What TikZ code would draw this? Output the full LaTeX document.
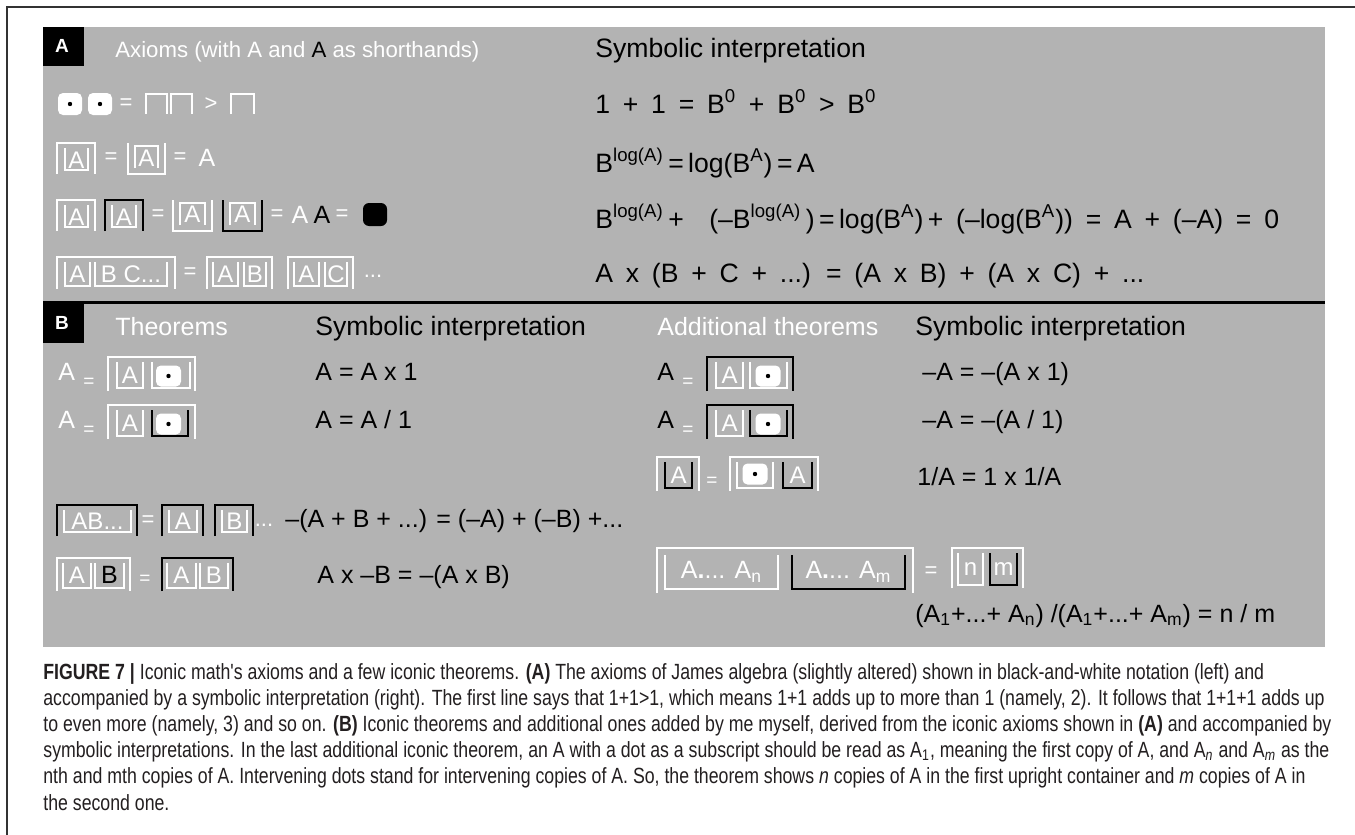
\documentclass[tikz,border=0pt]{standalone}
\usepackage{fontspec}
\setmainfont{Liberation Sans}
\newfontfamily\capfont{Liberation Sans}[FakeStretch=0.805]
\definecolor{panel}{RGB}{179,179,179}
\definecolor{captxt}{RGB}{35,31,32}
\newcommand\fsMain{\fontsize{12.5}{15}\selectfont}
\newcommand\fsSym{\fontsize{13.3}{16}\selectfont\spaceskip=0.48em\relax}
\newcommand\fsSymH{\fontsize{13.3}{16}\selectfont}
\newcommand\fsHead{\fontsize{11.1}{14}\selectfont}
\newcommand\fsBox{\fontsize{12}{14}\selectfont}
\newcommand\fsEq{\fontsize{11}{13}\selectfont}
\newcommand\fsEqs{\fontsize{9.5}{11}\selectfont}
\newcommand\fsLab{\fontsize{9.5}{11}\selectfont\bfseries}
% upright container (open at bottom): style, x0, x1, ytop, ybot
\newcommand\cU[5]{\draw[#1] (#2,#5) -- (#2,#4) -- (#3,#4) -- (#3,#5);}
% inverted container (open at top)
\newcommand\cD[5]{\draw[#1] (#2,#4) -- (#2,#5) -- (#3,#5) -- (#3,#4);}
% unit square with dot: cx, cy, w, h
\newcommand\dsq[4]{\fill[white,rounded corners=2.5pt] ({#1-#3/2},{#2-#4/2}) rectangle ({#1+#3/2},{#2+#4/2});
  \fill[black] (#1,#2) circle (1.1pt);}
\begin{document}
\begin{tikzpicture}[x=0.5pt,y=-0.5pt,
  wl/.style={draw=white,line width=1.4pt},
  bl/.style={draw=black,line width=1.4pt},
  lw/.style={text=white,inner sep=0,font=\fsBox},
  lb/.style={text=black,inner sep=0,font=\fsBox},
  eq/.style={text=white,inner sep=0,font=\fsEq},
  eqs/.style={text=white,inner sep=0,font=\fsEqs},
  tx/.style={anchor=base west,inner sep=0,font=\fsMain,text=black},
  sx/.style={anchor=base west,inner sep=0,font=\fsSym,text=black},
  hw/.style={anchor=base west,inner sep=0,font=\fsMain,text=white},
  lab/.style={text=white,inner sep=0,font=\fsLab}]
\useasboundingbox (0,0) rectangle (1355,835);
\fill[white] (0,0) rectangle (1355,835);
% outer frame
\draw[black!80,line width=0.7pt] (7,835) -- (7,7) -- (1355,7);
% panel
\fill[panel] (43,27) rectangle (1325,647);
\draw[black,line width=1.5pt] (43,302) -- (1325,302);
% ---------------- Panel A ----------------
\fill[black] (43,27) rectangle (84,66);
\node[lab] (labA) at (62,46) {A};
\node[hw,font=\fsHead] (axh) at (115,57) {Axioms (with A and \textcolor{black}{A} as shorthands)};
\node[sx,font=\fsSymH] (symA) at (595,57) {Symbolic interpretation};
% row 1
\dsq{70}{104}{24}{22}
\dsq{100}{104}{24}{22}
\node[eq] (a1eq) at (126,104) {=};
\cU{wl}{146}{167}{94}{114}
\cU{wl}{171}{192}{94}{114}
\node[eq] (a1gt) at (211,104) {>};
\cU{wl}{231}{254}{94}{114}
\node[sx] (a1s) at (595,113) {1 + 1 = B\textsuperscript{0} + B\textsuperscript{0} > B\textsuperscript{0}};
% row 2
\cU{wl}{57}{95}{143}{174}
\cD{wl}{65}{88}{148}{170}
\node[lw] (a2a) at (76.5,160) {A};
\node[eq] (a2e1) at (111,158) {=};
\cD{wl}{128}{165}{143}{174}
\cU{wl}{135}{158}{146}{168}
\node[lw] (a2b) at (146.5,158) {A};
\node[eq] (a2e2) at (180,158) {=};
\node[lw,font=\fsMain] (a2c) at (207,158) {A};
\node[sx] (a2s) at (595,172) {B\textsuperscript{log(A)}\,=\,log(B\textsuperscript{A})\,=\,A};
% row 3
\cU{wl}{57}{95}{200}{231}
\cD{wl}{65}{88}{205}{227}
\node[lw] (a3a) at (76.5,217) {A};
\cU{bl}{105}{143}{200}{231}
\cD{wl}{112}{136}{205}{227}
\node[lw] (a3b) at (124,217) {A};
\node[eq] (a3e1) at (158,215) {=};
\cD{wl}{173}{212}{200}{231}
\cU{wl}{180}{205}{203}{225}
\node[lw] (a3c) at (192.5,214) {A};
\cD{bl}{223}{262}{200}{231}
\cU{wl}{230}{255}{203}{225}
\node[lw] (a3d) at (242.5,214) {A};
\node[eq] (a3e2) at (277,215) {=};
\node[lw,font=\fsMain] (a3f) at (300,215) {A};
\node[lb,font=\fsMain] (a3g) at (322,215) {A};
\node[eq] (a3e3) at (342,215) {=};
\fill[black,rounded corners=3pt] (363,203) rectangle (387,226);
\node[sx] (a3s) at (595,228) {B\textsuperscript{log(A)}\,+\ \ (–B\textsuperscript{log(A)}\,)\,=\,log(B\textsuperscript{A})\,+\ (–log(B\textsuperscript{A})) = A + (–A) = 0};
% row 4
\cU{wl}{57}{175}{257}{289}
\cD{wl}{65}{90}{262}{286}
\node[lw] (a4a) at (77.5,274) {A};
\cD{wl}{95}{167}{262}{286}
\node[lw] (a4b) at (131,274) {B C...};
\node[eq] (a4e) at (190,273) {=};
\cU{wl}{207}{272}{257}{289}
\cD{wl}{213}{238}{262}{286}
\node[lw] (a4c) at (225.5,274) {A};
\cD{wl}{244}{266}{262}{286}
\node[lw] (a4d) at (255,274) {B};
\cU{wl}{288}{353}{257}{289}
\cD{wl}{294}{319}{262}{286}
\node[lw] (a4f) at (306.5,274) {A};
\cD{wl}{325}{347}{262}{286}
\node[lw] (a4g) at (336,274) {C};
\node[eq] (a4dots) at (373,276) {...};
\node[sx] (a4s) at (595,282) {A x (B + C + ...) = (A x B) + (A x C) + ...};
% ---------------- Panel B ----------------
\fill[black] (43,303) rectangle (84,343);
\node[lab] (labB) at (62,323) {B};
\node[hw] (thh) at (115,335) {Theorems};
\node[sx,font=\fsSymH] (symB1) at (315,335) {Symbolic interpretation};
\node[hw] (adh) at (657,335) {Additional theorems};
\node[sx,font=\fsSymH] (symB2) at (915,335) {Symbolic interpretation};
% B1
\node[hw] (b1a) at (58,380) {A};
\node[eqs] (b1e) at (89,383) {=};
\cU{wl}{108}{195}{357}{391}
\cD{wl}{117}{143}{362}{388}
\node[lw] (b1b) at (130,375) {A};
\cD{wl}{152}{190}{362}{388}
\dsq{168.5}{376}{25}{21}
\node[tx] (b1s) at (315,380) {A = A x 1};
% B2
\node[hw] (b2a) at (58,428) {A};
\node[eqs] (b2e) at (89,431) {=};
\cU{wl}{108}{195}{405}{439}
\cD{wl}{117}{143}{410}{436}
\node[lw] (b2b) at (130,423) {A};
\cD{bl}{152}{188}{410}{436}
\dsq{168.5}{424}{25}{21}
\node[tx] (b2s) at (315,428) {A = A / 1};
% B4
\cU{bl}{57}{137}{505}{536}
\cD{wl}{64}{131}{510}{532}
\node[lw] (b4a) at (97.5,521) {AB...};
\node[eq] (b4e) at (148,521) {=};
\cU{bl}{162}{203}{505}{536}
\cD{wl}{169}{197}{510}{532}
\node[lw] (b4b) at (183,521) {A};
\cU{bl}{215}{253}{505}{536}
\cD{wl}{222}{247}{510}{532}
\node[lw] (b4c) at (234.5,521) {B};
\node[eq] (b4dots) at (264,525) {...};
\node[tx] (b4s) at (285,527) {–(A + B + ...) = (–A) + (–B) +...};
% B5
\cU{wl}{57}{130}{558}{591}
\cD{wl}{63}{91}{563}{588}
\node[lw] (b5a) at (77,575) {A};
\cD{wl}{95}{124}{563}{588}
\node[lb,font=\fsMain] (b5b) at (109.5,575) {B};
\node[eqs] (b5e) at (145,580) {=};
\cU{bl}{162}{233}{558}{591}
\cD{wl}{167}{196}{563}{588}
\node[lw] (b5c) at (181.5,575) {A};
\cD{wl}{200}{228}{563}{588}
\node[lw] (b5d) at (214,575) {B};
\node[tx] (b5s) at (317,583) {A x –B = –(A x B)};
% R1
\node[tx] (r1a) at (657,380) {A};
\node[eqs] (r1e) at (688,383) {=};
\cU{bl}{707}{793}{357}{391}
\cD{wl}{716}{743}{362}{388}
\node[lw] (r1b) at (729.5,375) {A};
\cD{wl}{750}{787}{362}{388}
\dsq{768}{376}{25}{21}
\node[tx] (r1s) at (922,380) {–A = –(A x 1)};
% R2
\node[tx] (r2a) at (657,428) {A};
\node[eqs] (r2e) at (688,431) {=};
\cU{bl}{707}{793}{405}{439}
\cD{wl}{716}{743}{410}{436}
\node[lw] (r2b) at (729.5,423) {A};
\cD{bl}{750}{787}{410}{436}
\dsq{768}{424}{25}{21}
\node[tx] (r2s) at (922,428) {–A = –(A / 1)};
% R3
\cU{wl}{657}{699}{457}{491}
\cD{bl}{665}{692}{462}{488}
\node[lw] (r3a) at (678.5,475) {A};
\node[eqs] (r3e) at (712,482) {=};
\cU{wl}{730}{818}{457}{491}
\cD{wl}{737}{773}{462}{488}
\dsq{755}{474}{25}{21}
\cD{bl}{783}{812}{462}{488}
\node[lw] (r3b) at (797.5,475) {A};
\node[tx] (r3s) at (917,485) {1/A = 1 x 1/A};
% R4
\cU{wl}{657}{913}{548}{593}
\cD{wl}{665}{778}{555}{589}
\node[lw,font=\fsMain] (r4a) at (721.5,572) {A{\bfseries .}... A\textsubscript{n}};
\cD{bl}{792}{905}{555}{589}
\node[lw,font=\fsMain] (r4b) at (848.5,572) {A{\bfseries .}... A\textsubscript{m}};
\node[eq] (r4e) at (931,572) {=};
\cU{wl}{952}{1023}{548}{588}
\cD{wl}{958}{983}{553}{585}
\node[lw] (r4n) at (970.5,569) {n};
\cD{bl}{990}{1017}{553}{585}
\node[lw] (r4m) at (1003.5,569) {m};
\node[tx] (r4s) at (915,622) {(A\textsubscript{1}+...+ A\textsubscript{n}) /(A\textsubscript{1}+...+ A\textsubscript{m}) = n / m};
% ---------------- caption ----------------
\node[anchor=base west,inner sep=0,align=left,text=captxt,font=\capfont\fontsize{11}{13.1}\selectfont] (cap) at (43,810) {%
{\bfseries FIGURE 7 |} Iconic math's axioms and a few iconic theorems. {\bfseries (A)} The axioms of James algebra (slightly altered) shown in black-and-white notation (left) and\\
accompanied by a symbolic interpretation (right). The first line says that 1+1>1, which means 1+1 adds up to more than 1 (namely, 2). It follows that 1+1+1 adds up\\
to even more (namely, 3) and so on. {\bfseries (B)} Iconic theorems and additional ones added by me myself, derived from the iconic axioms shown in {\bfseries (A)} and accompanied by\\
symbolic interpretations. In the last additional iconic theorem, an A with a dot as a subscript should be read as A\textsubscript{1}, meaning the first copy of A, and A\textsubscript{\itshape n} and A\textsubscript{\itshape m} as the\\
nth and mth copies of A. Intervening dots stand for intervening copies of A. So, the theorem shows {\itshape n} copies of A in the first upright container and {\itshape m} copies of A in\\
the second one.};
\end{tikzpicture}
\end{document}
